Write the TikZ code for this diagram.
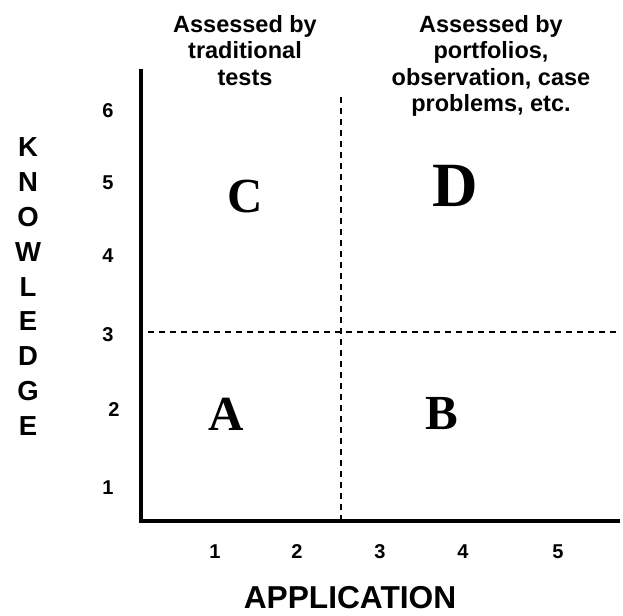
\documentclass[tikz,border=0pt]{standalone}
\usepackage{fontspec}
\setmainfont{Liberation Sans}
\newfontfamily\quadfont{Liberation Serif}
\begin{document}
\begin{tikzpicture}[x=1pt,y=-1pt,
  ticklbl/.style={font=\fontsize{20}{20}\selectfont\bfseries},
  heading/.style={font=\fontsize{23.5}{26.5}\selectfont\bfseries,align=center,inner sep=0pt,anchor=north},
  axislbl/.style={font=\fontsize{31.7}{32}\selectfont\bfseries,inner sep=0pt,anchor=base},
  knowlbl/.style={font=\fontsize{27.5}{27.5}\selectfont\bfseries},
  quadlbl/.style={font=\fontsize{49}{49}\quadfont\bfseries},
  divider/.style={line width=1.4pt,dash pattern=on 6pt off 5pt}]

\useasboundingbox (0,0) rectangle (623,615);

% axes
\coordinate (origin) at (141,521);
\coordinate (ytop) at (141,69);
\coordinate (xend) at (620,521);
\draw[line width=3.5pt] (ytop) -- (origin) -- (xend);

% quadrant dividers
\coordinate (vtop) at (341,97);
\coordinate (vbot) at (341,521);
\coordinate (hleft) at (148,332);
\coordinate (hright) at (618,332);
\draw[divider] (vtop) -- (vbot);
\draw[divider] (hleft) -- (hright);

% headings
\node[heading] (tests) at (245,15) {Assessed by\\traditional\\tests};
\node[heading] (portfolios) at (491,15) {Assessed by\\portfolios,\\observation, case\\problems, etc.};

% knowledge scale
\foreach \v/\y in {6/111,5/183,4/256,3/335,1/488}
  \node[ticklbl] (ky\v) at (108,\y) {\v};
\node[ticklbl] (ky2) at (114,410) {2};

% application scale
\foreach \v/\x in {1/215,2/297,3/380,4/463,5/558}
  \node[ticklbl] (ax\v) at (\x,552) {\v};

% axis titles
\node[axislbl] (application) at (350,608) {APPLICATION};
\foreach \ch [count=\i] in {K,N,O,W,L,E,D,G,E}
  \node[knowlbl] (kn\i) at (28,{147+34.9*(\i-1)}) {\ch};

% quadrants
\node[quadlbl] (quadC) at (245,197) {C};
\node[quadlbl,font=\fontsize{63}{63}\quadfont\bfseries] (quadD) at (455,186) {D};
\node[quadlbl] (quadA) at (226,414) {A};
\node[quadlbl] (quadB) at (442,414) {B};

\end{tikzpicture}
\end{document}
